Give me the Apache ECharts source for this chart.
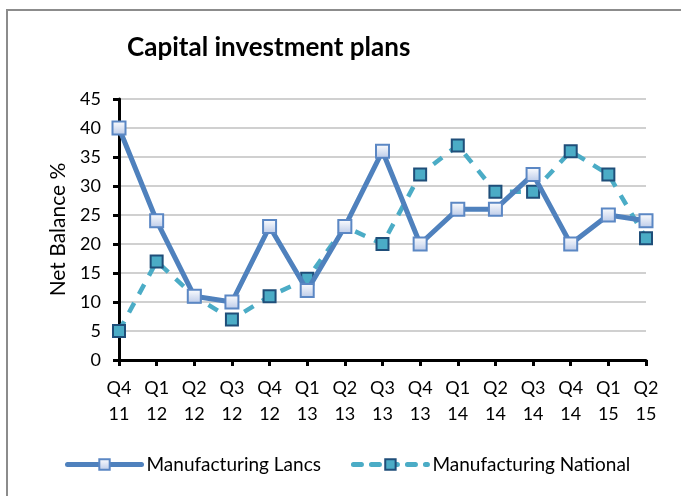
<!DOCTYPE html>
<html>
<head>
<meta charset="utf-8">
<script src="https://cdn.jsdelivr.net/npm/echarts@6/dist/echarts.min.js"></script>
<style>
  html, body { margin: 0; padding: 0; background: #fff; }
  #chart { width: 681px; height: 496px; }
</style>
</head>
<body>
<div id="chart"></div>
<script>
// Quarters (two-line labels: quarter / year)
const quarters = ['Q4\n11', 'Q1\n12', 'Q2\n12', 'Q3\n12', 'Q4\n12', 'Q1\n13', 'Q2\n13', 'Q3\n13',
                  'Q4\n13', 'Q1\n14', 'Q2\n14', 'Q3\n14', 'Q4\n14', 'Q1\n15', 'Q2\n15'];
// Net balance % by series
const lancs    = [40, 24, 11, 10, 23, 12, 23, 36, 20, 26, 26, 32, 20, 25, 24];
const national = [5, 17, 11, 7, 11, 14, 23, 20, 32, 37, 29, 29, 36, 32, 21];
const lancsName = 'Manufacturing Lancs';
const nationalName = 'Manufacturing National';

const FONT = 'Lato, "Open Sans", sans-serif';

const chart = echarts.init(document.getElementById('chart'));
chart.setOption({
  animation: false,
  backgroundColor: '#fff',
  title: {
    text: 'Capital investment plans',
    left: 122, top: 30,
    textStyle: { fontFamily: FONT, fontWeight: 'bold', fontSize: 26, color: '#000' }
  },
  graphic: [{
    type: 'rect',
    shape: { x: 7, y: 10, width: 700, height: 520 },
    style: { fill: 'none', stroke: '#8c8c8c', lineWidth: 2 },
    silent: true, z: -1
  }],
  legend: {
    top: 450, left: 60,
    itemWidth: 74, itemHeight: 13, itemGap: 30,
    textStyle: { fontFamily: FONT, fontSize: 19, color: '#000' },
    data: [
      { name: lancsName, lineStyle: { width: 5, cap: 'round' } },
      { name: nationalName, lineStyle: { width: 5, cap: 'round', type: [8, 10] } }
    ]
  },
  grid: { left: 119, right: 35, top: 99, bottom: 136 },
  xAxis: {
    type: 'category',
    data: quarters,
    boundaryGap: false,
    axisLine: { lineStyle: { color: '#000', width: 3 } },
    axisTick: { show: true, length: 6, lineStyle: { color: '#000', width: 3 } },
    axisLabel: { fontFamily: FONT, fontSize: 18, color: '#000', lineHeight: 26, margin: 15 }
  },
  yAxis: {
    type: 'value',
    min: 0, max: 45, interval: 5,
    name: 'Net Balance %',
    nameLocation: 'middle',
    nameGap: 50,
    nameTextStyle: { fontFamily: FONT, fontSize: 21, color: '#000' },
    axisLine: { show: true, lineStyle: { color: '#000', width: 3 } },
    axisTick: { show: true, length: 6, lineStyle: { color: '#000', width: 3 } },
    axisLabel: { fontFamily: FONT, fontSize: 18, color: '#000', margin: 18 },
    splitLine: { lineStyle: { color: '#c0c0c0', width: 1.5 } }
  },
  series: [
    {
      name: lancsName,
      type: 'line',
      data: lancs,
      symbol: 'rect',
      symbolSize: 13,
      lineStyle: { color: '#4f81bd', width: 5 },
      itemStyle: {
        color: new echarts.graphic.LinearGradient(0, 0, 0, 1, [
          { offset: 0, color: '#ffffff' },
          { offset: 1, color: '#b9c9e8' }
        ]),
        borderColor: '#5b87c4',
        borderWidth: 2
      },
      z: 3
    },
    {
      name: nationalName,
      type: 'line',
      data: national,
      symbol: 'rect',
      symbolSize: 12,
      lineStyle: { color: '#4bacc6', width: 4.5, type: [11, 10] },
      itemStyle: { color: '#4bacc6', borderColor: '#1f4e79', borderWidth: 2 },
      z: 2
    }
  ]
});
</script>
</body>
</html>
